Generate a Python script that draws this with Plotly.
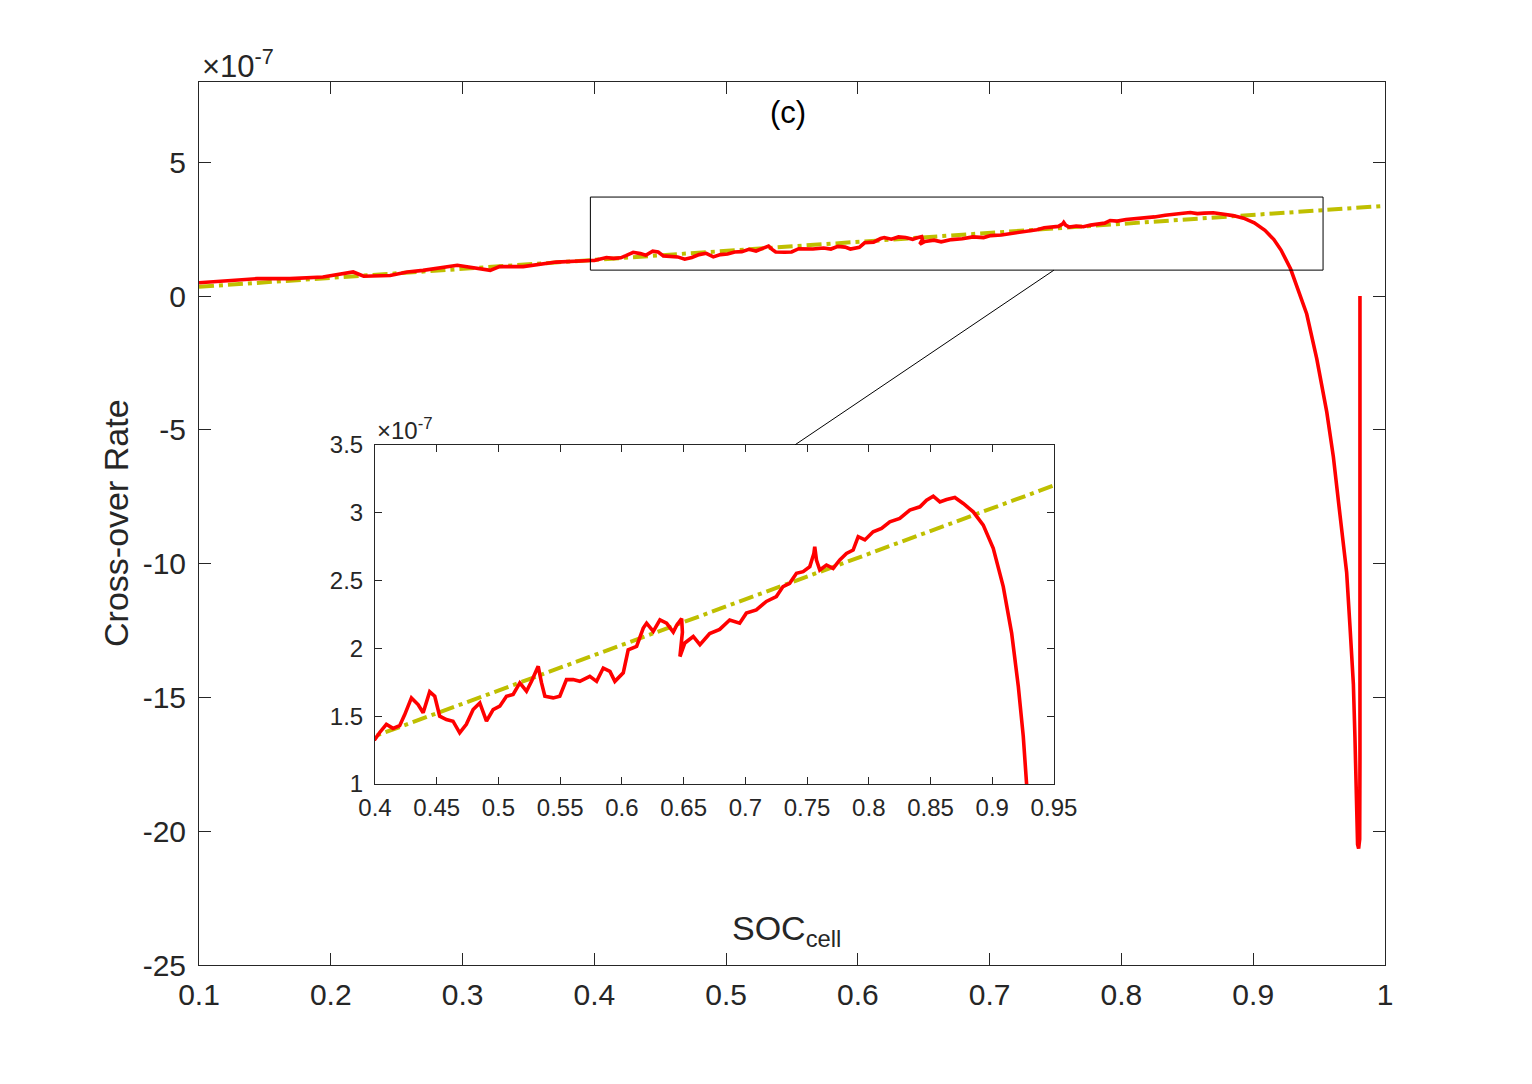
import plotly.graph_objects as go

# ---- data (values in units of 1e-7) ----
soc_cell = [
    0.100, 0.118, 0.144, 0.169, 0.194, 0.217, 0.225, 0.245, 0.258, 0.270,
    0.296, 0.321, 0.328, 0.346, 0.371, 0.397,
    0.4000, 0.4038, 0.4092, 0.4146, 0.4200, 0.4240, 0.4295, 0.4349, 0.4390, 0.4443,
    0.4484, 0.4524, 0.4578, 0.4632, 0.4686, 0.4740, 0.4795, 0.4849, 0.4903, 0.4957,
    0.5011, 0.5065, 0.5119, 0.5173, 0.5227, 0.5268, 0.5322, 0.5349, 0.5376, 0.5443,
    0.5497, 0.5551, 0.5605, 0.5659, 0.5740, 0.5795, 0.5849, 0.5903, 0.5943, 0.6011,
    0.6051, 0.6119, 0.6173, 0.6200, 0.6254, 0.6308, 0.6362, 0.6416, 0.6443, 0.6484,
    0.6490, 0.6470, 0.6510, 0.6578, 0.6632,
    0.6711, 0.6792, 0.6873, 0.6954, 0.7008, 0.7089, 0.7170, 0.7251, 0.7305, 0.7359,
    0.7414, 0.7468, 0.7522, 0.7555, 0.7562, 0.7576, 0.7603, 0.7657, 0.7711, 0.7765,
    0.7819, 0.7873, 0.7914, 0.7968, 0.8035, 0.8103, 0.8170, 0.8251, 0.8332, 0.8414,
    0.8468, 0.8522, 0.8576, 0.8630, 0.8697, 0.8765, 0.8846, 0.8927, 0.9008, 0.9089,
    0.9157, 0.9211, 0.9251, 0.9284,
    0.9406, 0.9482, 0.9558, 0.9608, 0.9658, 0.9709, 0.9734, 0.9760, 0.9772, 0.9785,
    0.9792, 0.9800, 0.9808, 0.9810, 0.9810,
]
crossover_rate = [
    0.50, 0.56, 0.65, 0.65, 0.71, 0.90, 0.74, 0.77, 0.90, 0.96,
    1.15, 0.96, 1.10, 1.10, 1.27, 1.33,
    1.33, 1.38, 1.44, 1.41, 1.43, 1.51, 1.635, 1.586, 1.525, 1.68,
    1.647, 1.50, 1.475, 1.463, 1.377, 1.44, 1.549, 1.598, 1.463, 1.549,
    1.574, 1.647, 1.66, 1.745, 1.684, 1.757, 1.868, 1.745, 1.647, 1.635,
    1.647, 1.77, 1.77, 1.757, 1.794, 1.757, 1.855, 1.83, 1.757, 1.82,
    1.99, 2.015, 2.15, 2.186, 2.125, 2.21, 2.186, 2.12, 2.17, 2.22,
    2.12, 1.94, 2.04, 2.088, 2.027,
    2.11, 2.14, 2.21, 2.186, 2.26, 2.284, 2.346, 2.382, 2.456, 2.48,
    2.554, 2.566, 2.603, 2.70, 2.75, 2.652, 2.578, 2.615, 2.59, 2.652,
    2.70, 2.725, 2.824, 2.80, 2.86, 2.885, 2.934, 2.958, 3.02, 3.044,
    3.093, 3.123, 3.08, 3.098, 3.113, 3.069, 3.007, 2.909, 2.738, 2.456,
    2.113, 1.72, 1.353, 1.01,
    -0.67, -2.34, -4.33, -6.0, -8.16, -10.33, -12.33, -14.5, -16.5, -18.66,
    -20.5, -20.65, -20.3, -17.3, 0.0,
]
fit_soc = [0.1, 1.0]
fit_rate = [0.345, 3.37]

main_xticks = [0.1, 0.2, 0.3, 0.4, 0.5, 0.6, 0.7, 0.8, 0.9, 1.0]
main_xlabels = ["0.1", "0.2", "0.3", "0.4", "0.5", "0.6", "0.7", "0.8", "0.9", "1"]
main_yticks = [-25, -20, -15, -10, -5, 0, 5]
main_ylabels = ["-25", "-20", "-15", "-10", "-5", "0", "5"]
inset_xticks = [0.4, 0.45, 0.5, 0.55, 0.6, 0.65, 0.7, 0.75, 0.8, 0.85, 0.9, 0.95]
inset_xlabels = ["0.4", "0.45", "0.5", "0.55", "0.6", "0.65", "0.7", "0.75", "0.8", "0.85", "0.9", "0.95"]
inset_yticks = [1, 1.5, 2, 2.5, 3, 3.5]
inset_ylabels = ["1", "1.5", "2", "2.5", "3", "3.5"]

FONT = "Liberation Sans, Arial, Helvetica, sans-serif"
AX = "#262626"
RED = "rgb(255,0,0)"
YEL = "rgb(191,191,0)"
DASHDOT = "15px,5px,4px,5px"

fig = go.Figure()
for xa, ya, w in [("x", "y", 3.6), ("x2", "y2", 3.6)]:
    fig.add_trace(go.Scatter(x=fit_soc, y=fit_rate, mode="lines", xaxis=xa, yaxis=ya,
                             line=dict(color=YEL, width=4, dash=DASHDOT), showlegend=False,
                             hoverinfo="skip"))
    fig.add_trace(go.Scatter(x=soc_cell, y=crossover_rate, mode="lines", xaxis=xa, yaxis=ya,
                             line=dict(color=RED, width=w), showlegend=False))

axis_common = dict(showline=True, linecolor=AX, linewidth=1, mirror="ticks", ticks="inside",
                   tickcolor=AX, showgrid=False, zeroline=False, tickmode="array")

fig.update_layout(
    width=1532, height=1084,
    margin=dict(l=199, r=147, t=82, b=119, pad=0, autoexpand=False),
    paper_bgcolor="white", plot_bgcolor="white",
    font=dict(family=FONT, color=AX),
    xaxis=dict(axis_common, domain=[0, 1], range=[0.1, 1.0], tickvals=main_xticks,
               ticktext=main_xlabels, ticklen=12, tickfont=dict(size=30),
               ticklabelstandoff=3, anchor="y"),
    yaxis=dict(axis_common, domain=[0, 1], range=[-25, 8], tickvals=main_yticks,
               ticktext=main_ylabels, ticklen=12, tickfont=dict(size=30),
               ticklabelstandoff=6, anchor="x"),
    xaxis2=dict(axis_common, domain=[0.1484, 0.7209], range=[0.4, 0.95], tickvals=inset_xticks,
                ticktext=inset_xlabels, ticklen=7, tickfont=dict(size=24),
                ticklabelstandoff=2, anchor="y2"),
    yaxis2=dict(axis_common, domain=[0.205, 0.5889], range=[1, 3.5], tickvals=inset_yticks,
                ticktext=inset_ylabels, ticklen=7, tickfont=dict(size=24),
                ticklabelstandoff=6, anchor="x2"),
)

# zoom rectangle and connector on the main axes
fig.add_shape(type="rect", xref="x", yref="y", x0=0.397, x1=0.953, y0=0.97, y1=3.70,
              line=dict(color="black", width=1))
fig.add_shape(type="line", xref="x", yref="y", x0=0.7488, y0=0.97, x1=0.5523, y1=-5.56,
              line=dict(color="black", width=1))

fig.add_annotation(text="Cross-over Rate", xref="paper", yref="paper", x=-0.0700, y=0.5006,
                   textangle=-90, showarrow=False, xanchor="center", yanchor="middle",
                   font=dict(size=34, color=AX))
fig.add_annotation(text="SOC<sub>cell</sub>", xref="paper", yref="paper", x=0.4955, y=0.0396,
                   showarrow=False, xanchor="center", yanchor="middle",
                   font=dict(size=34, color=AX))
fig.add_annotation(text="(c)", xref="paper", yref="paper", x=0.4966, y=0.9649,
                   showarrow=False, xanchor="center", yanchor="middle",
                   font=dict(size=31, color="black"))
fig.add_annotation(text="×10<sup>-7</sup>", xref="paper", yref="paper", x=0.0008, y=0.996,
                   showarrow=False, xanchor="left", yanchor="bottom",
                   font=dict(size=31, color=AX))
fig.add_annotation(text="×10<sup>-7</sup>", xref="paper", yref="paper", x=0.1484, y=0.5875,
                   showarrow=False, xanchor="left", yanchor="bottom",
                   font=dict(size=24, color=AX))

fig.write_html("out.html")
